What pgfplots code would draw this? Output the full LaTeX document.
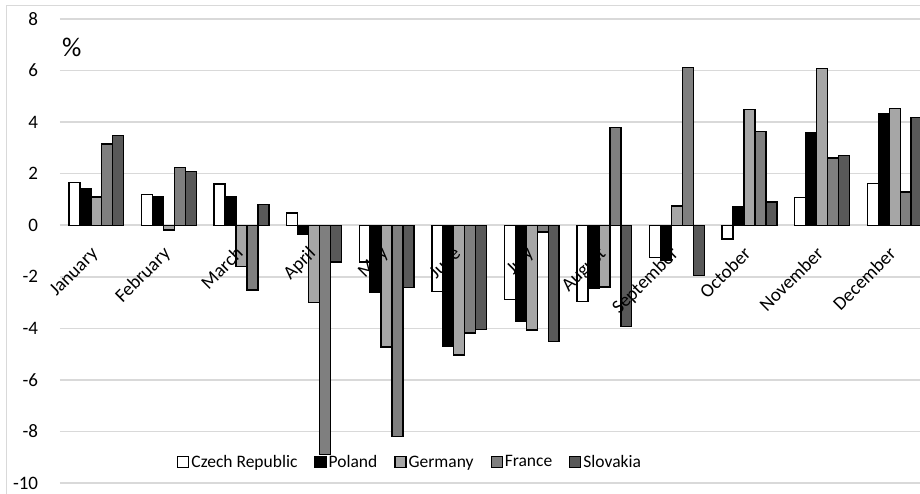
\documentclass[border=0pt]{standalone}
\usepackage{pgfplots}
\pgfplotsset{compat=1.18}
\usepackage{pgfplotstable}
\usepackage{fontspec}
\setmainfont{Carlito}

\definecolor{gridgray}{HTML}{D9D9D9}
\definecolor{degray}{HTML}{A6A6A6}
\definecolor{frgray}{HTML}{7F7F7F}
\definecolor{skgray}{HTML}{595959}

% Monthly change, %
\pgfplotstableread{
m  cz     pl     de     fr     sk
0   1.66   1.42   1.10   3.15   3.47
1   1.20   1.12  -0.18   2.23   2.09
2   1.60   1.11  -1.61  -2.52   0.80
3   0.47  -0.36  -3.00  -8.90  -1.43
4  -1.43  -2.60  -4.73  -8.20  -2.42
5  -2.57  -4.71  -5.03  -4.18  -4.05
6  -2.88  -3.71  -4.06  -0.26  -4.50
7  -2.95  -2.46  -2.40   3.80  -3.93
8  -1.25  -1.38   0.75   6.11  -1.96
9  -0.54   0.72   4.48   3.64   0.90
10  1.08   3.60   6.07   2.60   2.71
11  1.63   4.34   4.52   1.29   4.18
}\datatable

\tikzset{month/.style={font=\fontsize{19}{22}\selectfont, xshift=2.5pt, yshift=-29.5pt,
  rotate=45, anchor=base east, inner sep=0pt}}

\begin{document}
\begin{tikzpicture}
\useasboundingbox (-60pt,-10pt) rectangle (860pt,483pt);
\clip (-60pt,-10pt) rectangle (860pt,483pt);
\draw[gridgray, line width=1pt] (-53pt,-40pt) rectangle (920pt,477pt);
\begin{axis}[
  at={(0pt,0pt)}, anchor=south west,
  scale only axis, width=871pt, height=464pt,
  clip=false,
  xmin=-0.5, xmax=11.5, ymin=-10, ymax=8,
  ytick={-10,-8,...,8},
  xtick=\empty,
  axis line style={draw=none},
  major tick length=0pt,
  ymajorgrids, grid style={gridgray, line width=1.5pt},
  ybar=0pt, bar width=0.151,
  /pgf/number format/assume math mode=true,
  tick label style={font=\fontsize{19}{22}\selectfont},
  yticklabel style={anchor=east, inner sep=0pt, xshift=-21.7pt},
  legend style={draw=none, fill=none, at={(rel axis cs:0.402,0.045)}, anchor=center,
    font=\fontsize{17.5}{20}\selectfont,
    nodes={inner xsep=2pt},
    /tikz/every even column/.append style={column sep=15pt}},
  legend columns=5, legend cell align=left,
  sq/.style={legend image code/.code={\draw[##1, line width=1.2pt] (0pt,-5.5pt) rectangle (11pt,5.5pt);}},
]
\addplot[fill=white,   draw=black, line width=1.4pt, sq] table[x=m,y=cz]{\datatable};
\addplot[fill=black,   draw=black, line width=1.4pt, sq] table[x=m,y=pl]{\datatable};
\addplot[fill=degray,  draw=black, line width=1.4pt, sq] table[x=m,y=de]{\datatable};
\addplot[fill=frgray,  draw=black, line width=1.4pt, sq] table[x=m,y=fr]{\datatable};
\addplot[fill=skgray,  draw=black, line width=1.4pt, sq] table[x=m,y=sk]{\datatable};
\legend{Czech Republic, Poland, Germany, France, Slovakia}
% month names sit on the zero line, above the bars
\node[month] at (axis cs:0,0)  {January};
\node[month] at (axis cs:1,0)  {February};
\node[month] at (axis cs:2,0)  {March};
\node[month] at (axis cs:3,0)  {April};
\node[month] at (axis cs:4,0)  {May};
\node[month] at (axis cs:5,0)  {June};
\node[month] at (axis cs:6,0)  {July};
\node[month] at (axis cs:7,0)  {August};
\node[month] at (axis cs:8,0)  {September};
\node[month] at (axis cs:9,0)  {October};
\node[month] at (axis cs:10,0) {November};
\node[month] at (axis cs:11,0) {December};
\end{axis}
\node[anchor=west, inner sep=0pt, font=\fontsize{27}{30}\selectfont] at (2pt,436pt) {\%};
\end{tikzpicture}
\end{document}
